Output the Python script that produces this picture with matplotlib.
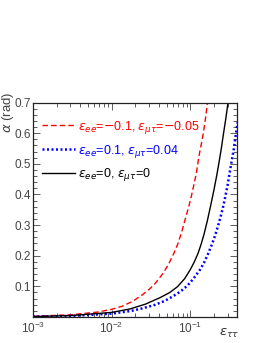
import matplotlib
matplotlib.use("Agg")
import matplotlib.pyplot as plt
from matplotlib.ticker import AutoMinorLocator, LogLocator, NullFormatter, FixedLocator

plt.rcParams['font.family'] = ['Liberation Sans', 'DejaVu Sans']
plt.rcParams['mathtext.fontset'] = 'dejavusans'

# values (eps_tautau, alpha in rad)
eps_black = [0.001, 0.003, 0.01, 0.017, 0.027, 0.042, 0.055, 0.069, 0.085, 0.1,
             0.113, 0.126, 0.138, 0.15, 0.166, 0.182, 0.2, 0.217, 0.233, 0.25,
             0.266, 0.285, 0.303]
alpha_black = [0.0015, 0.0045, 0.015, 0.026, 0.042, 0.064, 0.08, 0.099, 0.125, 0.154,
               0.18, 0.208, 0.238, 0.27, 0.316, 0.363, 0.413, 0.46, 0.505, 0.553,
               0.6, 0.65, 0.7]

eps_red = [0.001, 0.003, 0.0066, 0.01, 0.0136, 0.0185, 0.0245, 0.03, 0.036, 0.045,
           0.053, 0.062, 0.07, 0.078, 0.086, 0.094, 0.102, 0.11, 0.12, 0.129,
           0.138, 0.147, 0.157, 0.166]
alpha_red = [0.0024, 0.0072, 0.016, 0.025, 0.035, 0.051, 0.072, 0.09, 0.11, 0.142,
             0.172, 0.208, 0.24, 0.278, 0.317, 0.352, 0.387, 0.425, 0.47, 0.524,
             0.562, 0.6, 0.65, 0.7]

eps_blue = [0.001, 0.003, 0.01, 0.0175, 0.0245, 0.035, 0.047, 0.059, 0.075, 0.092,
            0.11, 0.133, 0.15, 0.17, 0.187, 0.205, 0.22, 0.238, 0.26, 0.28,
            0.3, 0.329, 0.36, 0.39, 0.4]
alpha_blue = [0.0011, 0.0033, 0.011, 0.0195, 0.028, 0.039, 0.052, 0.066, 0.083, 0.102,
              0.125, 0.154, 0.177, 0.208, 0.234, 0.262, 0.287, 0.317, 0.355, 0.393,
              0.432, 0.493, 0.55, 0.615, 0.635]

labels = [r'$\varepsilon_{ee}$=$-$0.1, $\varepsilon_{\mu\tau}$=$-$0.05',
          r'$\varepsilon_{ee}$=0.1, $\varepsilon_{\mu\tau}$=0.04',
          r'$\varepsilon_{ee}$=0, $\varepsilon_{\mu\tau}$=0']

fig = plt.figure(figsize=(2.65, 3.43), dpi=100)
ax = fig.add_axes([0.1245, 0.0758, 0.7717, 0.6252])

ax.plot(eps_red, alpha_red, color='#ff0000', ls=(0, (4, 2.2)), lw=1.0, label=labels[0])
ax.plot(eps_blue, alpha_blue, color='#0000ff', ls=(0, (0.8, 1.0)), lw=1.8, label=labels[1])
ax.plot(eps_black, alpha_black, color='black', ls='-', lw=1.0, label=labels[2])

ax.set_xscale('log')
ax.set_xlim(1e-3, 0.4)
ax.set_ylim(0, 0.7)

ax.xaxis.set_major_locator(LogLocator(base=10, numticks=10))
ax.xaxis.set_minor_locator(LogLocator(base=10, subs=range(2, 10), numticks=20))
ax.xaxis.set_minor_formatter(NullFormatter())
ax.yaxis.set_major_locator(FixedLocator([0.1, 0.2, 0.3, 0.4, 0.5, 0.6, 0.7]))
ax.yaxis.set_minor_locator(AutoMinorLocator(5))

ax.tick_params(which='both', direction='in', top=True, right=True,
               labelsize=8.5, labelcolor='#444444', color='#444444', width=0.6)
ax.tick_params(which='major', length=5)
ax.tick_params(which='minor', length=3)
ax.tick_params(axis='x', pad=3)
ax.tick_params(axis='y', pad=1.5)
for sp in ax.spines.values():
    sp.set_linewidth(0.9)
    sp.set_color('#222222')

fig.text(0.0, 0.732, r'$\alpha$ (rad)', rotation=90, ha='left', va='top',
         fontsize=9.5, color='#444444')
fig.text(0.905, 0.008, r'$\varepsilon_{\tau\tau}$', ha='right', va='bottom',
         fontsize=9.5, color='#333333')

leg = ax.legend(loc='upper left', bbox_to_anchor=(0.02, 0.948), frameon=False,
                handlelength=2.6, handletextpad=0.3, labelspacing=0.55,
                fontsize=9, labelcolor='linecolor', borderaxespad=0)

fig.savefig('out.png', dpi=100)
